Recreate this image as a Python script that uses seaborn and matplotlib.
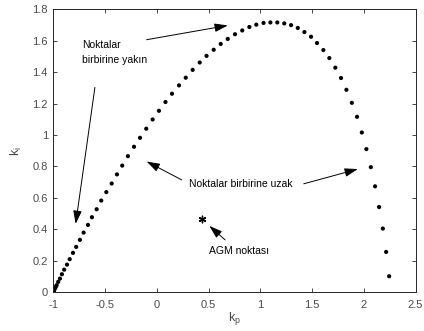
import matplotlib
matplotlib.use("Agg")
import matplotlib.pyplot as plt
import seaborn as sns
import pandas as pd

# Stability boundary points in the (kp, ki) plane
kp = [-1.000, -0.998, -0.996, -0.993, -0.989, -0.983, -0.976, -0.969, -0.954,
      -0.937, -0.918, -0.896, -0.869, -0.843, -0.811, -0.780, -0.744, -0.708,
      -0.666, -0.628, -0.582, -0.538, -0.489, -0.437, -0.386, -0.335, -0.280,
      -0.221, -0.163, -0.103, -0.041, 0.020, 0.083, 0.146, 0.214, 0.279,
      0.346, 0.414, 0.480, 0.549, 0.617, 0.685, 0.755, 0.825, 0.894, 0.961,
      1.031, 1.097, 1.164, 1.231, 1.297, 1.362, 1.426, 1.490, 1.548, 1.609,
      1.667, 1.725, 1.780, 1.832, 1.885, 1.935, 1.981, 2.025, 2.068, 2.109,
      2.148, 2.184, 2.216, 2.245]
ki = [0.000, 0.004, 0.008, 0.013, 0.019, 0.026, 0.034, 0.043, 0.064,
      0.085, 0.113, 0.142, 0.174, 0.209, 0.249, 0.287, 0.332, 0.378,
      0.427, 0.476, 0.527, 0.582, 0.636, 0.691, 0.749, 0.805, 0.865,
      0.925, 0.982, 1.040, 1.099, 1.154, 1.210, 1.263, 1.316, 1.365,
      1.415, 1.462, 1.504, 1.543, 1.580, 1.612, 1.642, 1.666, 1.688, 1.703,
      1.714, 1.717, 1.717, 1.711, 1.700, 1.682, 1.656, 1.626, 1.586, 1.541,
      1.490, 1.429, 1.363, 1.288, 1.205, 1.116, 1.016, 0.910, 0.795, 0.673,
      0.541, 0.404, 0.255, 0.100]

# AGM point
agm_kp = [0.44]
agm_ki = [0.464]

x_ticks = [-1, -0.5, 0, 0.5, 1, 1.5, 2, 2.5]
x_tick_labels = ["-1", "-0.5", "0", "0.5", "1", "1.5", "2", "2.5"]
y_ticks = [0, 0.2, 0.4, 0.6, 0.8, 1.0, 1.2, 1.4, 1.6, 1.8]
y_tick_labels = ["0", "0.2", "0.4", "0.6", "0.8", "1", "1.2", "1.4", "1.6", "1.8"]

sns.set_style("white")
plt.rcParams["font.family"] = ["Liberation Sans", "DejaVu Sans"]
plt.rcParams["mathtext.fontset"] = "custom"
plt.rcParams["mathtext.rm"] = "Liberation Sans"
plt.rcParams["mathtext.it"] = "Liberation Sans"

fig = plt.figure(figsize=(4.24, 3.31), dpi=100)
ax = fig.add_axes([0.126, 0.118, 0.854, 0.8535])

df = pd.DataFrame({"kp": kp, "ki": ki})
sns.scatterplot(data=df, x="kp", y="ki", ax=ax, color="black", s=9,
                edgecolor="none", linewidth=0)
ax.scatter(agm_kp, agm_ki, marker=(6, 2, 0), s=22, color="black", linewidths=1.0)

ax.set_xlim(-1, 2.5)
ax.set_ylim(0, 1.8)
ax.set_xticks(x_ticks)
ax.set_xticklabels(x_tick_labels)
ax.set_yticks(y_ticks)
ax.set_yticklabels(y_tick_labels)

tick_col = "#262626"
label_col = "#4a4a4a"
ax.tick_params(axis="both", direction="in", length=3, width=0.6,
               labelsize=8, colors=tick_col, labelcolor=label_col,
               top=True, right=True, bottom=True, left=True)
ax.tick_params(axis="x", pad=6)
ax.tick_params(axis="y", pad=4)
for sp in ax.spines.values():
    sp.set_visible(True)
    sp.set_color(tick_col)
    sp.set_linewidth(0.7)

ax.set_xlabel("k$_{\\mathrm{p}}$", fontsize=9, color=label_col, labelpad=0)
ax.set_ylabel("k$_{\\mathrm{i}}$", fontsize=9, color=label_col, labelpad=6)

arrow_kw = dict(arrowstyle="-|>,head_length=0.8,head_width=0.26",
                color="black", lw=0.7, shrinkA=0, shrinkB=0)

# "Points close together"
ax.text(-0.72, 1.525, "Noktalar\nbirbirine yakın", fontsize=7.5, ha="left",
        va="center", color="black", linespacing=1.6)
ax.annotate("", xy=(0.685, 1.698), xytext=(-0.099, 1.607), arrowprops=arrow_kw)
ax.annotate("", xy=(-0.785, 0.434), xytext=(-0.599, 1.303), arrowprops=arrow_kw)

# "Points far apart"
ax.text(0.31, 0.69, "Noktalar birbirine uzak", fontsize=7.5, ha="left",
        va="center", color="black")
ax.annotate("", xy=(-0.099, 0.831), xytext=(0.240, 0.714), arrowprops=arrow_kw)
ax.annotate("", xy=(1.942, 0.783), xytext=(1.420, 0.689), arrowprops=arrow_kw)

# AGM point label
ax.text(0.5, 0.26, "AGM noktası", fontsize=7.5, ha="left", va="center",
        color="black")
ax.annotate("", xy=(0.507, 0.421), xytext=(0.659, 0.332), arrowprops=arrow_kw)

fig.savefig("out.png", dpi=100)
